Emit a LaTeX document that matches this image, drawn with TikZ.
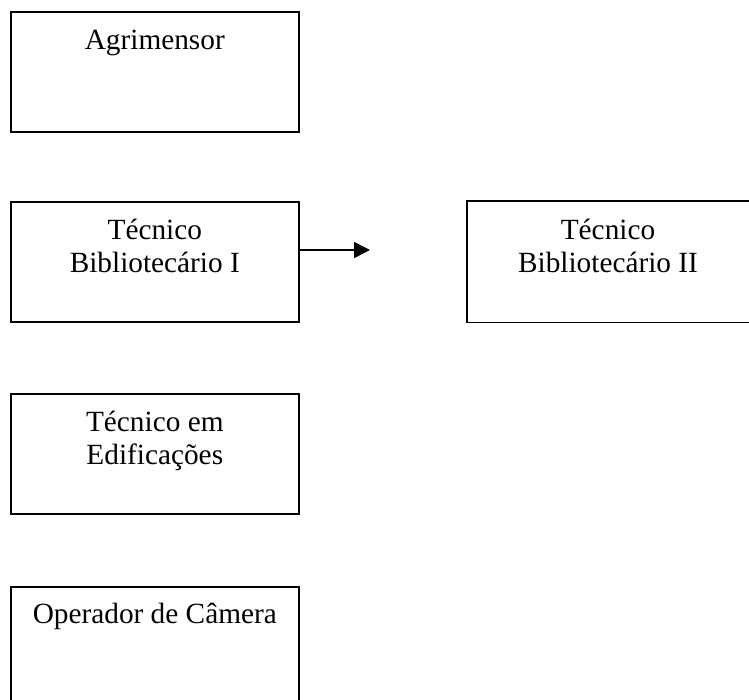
\documentclass[tikz,border=0pt]{standalone}
\usepackage{fontspec}
\setmainfont{Liberation Serif}
\usetikzlibrary{arrows.meta,calc}
\tikzset{
  box/.style={draw=black, line width=1.6pt, rectangle, inner sep=0pt,
              minimum width=288pt, minimum height=120pt, anchor=north west},
  edge/.style={line width=1.6pt, line join=miter},
  txt/.style={anchor=north, inner sep=0pt, align=center,
              font=\fontsize{29.3pt}{33pt}\selectfont},
  conn/.style={line width=1.6pt, -{Triangle[length=16pt,width=16pt]}}
}
\newcommand{\firstline}{\rule{0pt}{22pt}}
\begin{document}
\begin{tikzpicture}[x=1pt,y=-1pt]
\useasboundingbox (0,0) rectangle (749,700);
\node[box] (agr) at (10,11) {};
\node[txt] (agrt) at ($(agr.north)+(0,16)$) {\firstline Agrimensor};
\node[box] (bib1) at (10,201) {};
\node[txt] (bib1t) at ($(bib1.north)+(0,16)$) {\firstline Técnico\\Bibliotecário I};
\node[box, draw=none, minimum width=283pt] (bib2) at (467,201) {};
\draw[edge] (bib2.north east) -- (bib2.north west) -- (bib2.south west) -- (bib2.south east);
\node[txt] (bib2t) at ($(bib2.north west)+(141,16)$) {\firstline Técnico\\Bibliotecário II};
\node[box] (edi) at (10,393) {};
\node[txt] (edit) at ($(edi.north)+(0,16)$) {\firstline Técnico em\\Edificações};
\node[box] (ope) at (10,586) {};
\node[txt] (opet) at ($(ope.north)+(0,15)$) {\firstline Operador de Câmera};
\coordinate (arrend) at (370,250);
\draw[conn] (bib1.east |- arrend) -- (arrend);
\end{tikzpicture}
\end{document}
